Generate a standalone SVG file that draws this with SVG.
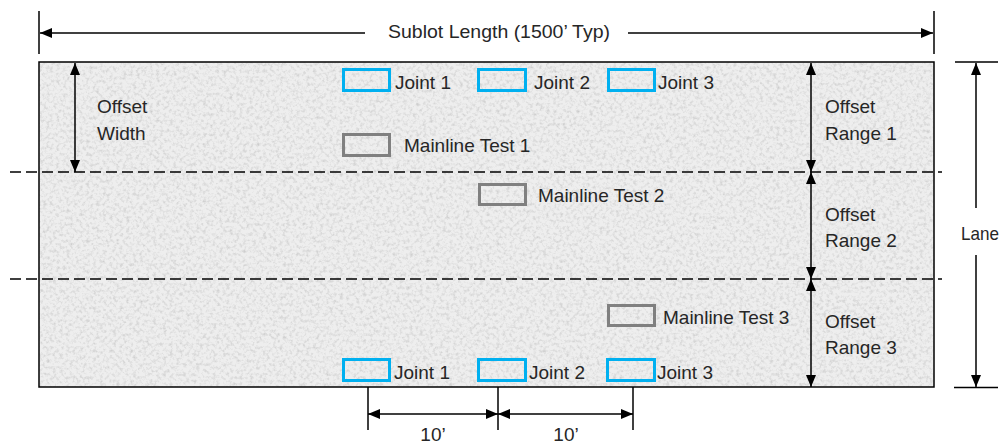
<svg xmlns="http://www.w3.org/2000/svg" width="1002" height="443" viewBox="0 0 1002 443">
<style>
text{font-family:"Liberation Sans",Arial,sans-serif;font-size:19px;fill:#262626}
.ln{stroke:#000;stroke-width:1.5;fill:none}
.dash{stroke:#000;stroke-width:1.5;stroke-dasharray:11 5;fill:none}
.joint{fill:none;stroke:#00B0F0;stroke-width:3}
.main{fill:none;stroke:#808080;stroke-width:3}
.arr{marker-start:url(#ah);marker-end:url(#ah)}
</style>
<defs>
<marker id="ah" viewBox="0 0 12 10" refX="12" refY="5" markerWidth="12" markerHeight="10" orient="auto-start-reverse" markerUnits="userSpaceOnUse"><path d="M0,0 L12,5 L0,10 z" fill="#000"/></marker>
<filter id="granite" x="0" y="0" width="100%" height="100%">
<feTurbulence type="fractalNoise" baseFrequency="0.3" numOctaves="3" seed="7" result="n"/>
<feColorMatrix in="n" type="matrix" values="0 0 0 0 0.6 0 0 0 0 0.6 0 0 0 0 0.6 2.0 0 0 0 -0.9" result="s"/>
<feComposite in="s" in2="SourceGraphic" operator="in"/>
</filter>
</defs>
<g id="pavement">
<rect x="39" y="62" width="895" height="325" fill="#eeeeee"/>
<rect x="39" y="62" width="895" height="325" fill="#000" filter="url(#granite)"/>
<rect x="39" y="62" width="895" height="325" fill="none" stroke="#000" stroke-width="1.5"/>
</g>
<g id="connectors">
<line class="dash" x1="10" y1="172" x2="942" y2="172"/>
<line class="dash" x1="10" y1="279" x2="942" y2="279"/>
<line class="ln" x1="39" y1="11" x2="39" y2="54"/>
<line class="ln" x1="934" y1="11" x2="934" y2="54"/>
<line class="ln" x1="365" y1="33" x2="40" y2="33" marker-end="url(#ah)"/>
<line class="ln" x1="628" y1="33" x2="933" y2="33" marker-end="url(#ah)"/>
<line class="ln arr" x1="75" y1="63" x2="75" y2="172"/>
<line class="ln arr" x1="811" y1="63" x2="811" y2="172"/>
<line class="ln arr" x1="811" y1="172" x2="811" y2="279"/>
<line class="ln arr" x1="811" y1="279" x2="811" y2="387"/>
<line class="ln" x1="955" y1="62" x2="998" y2="62"/>
<line class="ln" x1="954" y1="387.5" x2="998" y2="387.5"/>
<line class="ln" x1="976" y1="208" x2="976" y2="63" marker-end="url(#ah)"/>
<line class="ln" x1="976" y1="255" x2="976" y2="387" marker-end="url(#ah)"/>
<line class="ln" x1="368" y1="387" x2="368" y2="430"/>
<line class="ln" x1="498" y1="387" x2="498" y2="430"/>
<line class="ln" x1="633" y1="387" x2="633" y2="430"/>
<line class="ln arr" x1="368" y1="414" x2="498" y2="414"/>
<line class="ln arr" x1="498" y1="414" x2="633" y2="414"/>
</g>
<g id="labels">
<text x="388" y="38" textLength="222" lengthAdjust="spacingAndGlyphs">Sublot Length (1500’ Typ)</text>
<text x="97" y="113">Offset</text>
<text x="97" y="140">Width</text>
<text x="825" y="113">Offset</text>
<text x="825" y="140">Range 1</text>
<text x="825" y="221">Offset</text>
<text x="825" y="247">Range 2</text>
<text x="825" y="328">Offset</text>
<text x="825" y="354">Range 3</text>
<text x="961" y="240" textLength="38" lengthAdjust="spacingAndGlyphs">Lane</text>
<text x="433" y="441" text-anchor="middle">10’</text>
<text x="566" y="441" text-anchor="middle">10’</text>
</g>
<g id="joint-top-1"><rect class="joint" x="343.5" y="69.5" width="46" height="21"/><text x="395" y="89">Joint 1</text></g>
<g id="joint-top-2"><rect class="joint" x="478.5" y="69.5" width="47" height="21"/><text x="534" y="89">Joint 2</text></g>
<g id="joint-top-3"><rect class="joint" x="608.5" y="69.5" width="46" height="21"/><text x="658" y="89">Joint 3</text></g>
<g id="mainline-1"><rect class="main" x="343.5" y="134.5" width="46" height="21"/><text x="404" y="152">Mainline Test 1</text></g>
<g id="mainline-2"><rect class="main" x="479.5" y="184.5" width="46" height="20"/><text x="538" y="202">Mainline Test 2</text></g>
<g id="mainline-3"><rect class="main" x="608.5" y="305.5" width="46" height="20"/><text x="663" y="324">Mainline Test 3</text></g>
<g id="joint-bot-1"><rect class="joint" x="343.5" y="359.5" width="46" height="21"/><text x="394" y="379">Joint 1</text></g>
<g id="joint-bot-2"><rect class="joint" x="478.5" y="359.5" width="47" height="21"/><text x="529" y="379">Joint 2</text></g>
<g id="joint-bot-3"><rect class="joint" x="607.5" y="359.5" width="47" height="21"/><text x="657" y="379">Joint 3</text></g>
</svg>
